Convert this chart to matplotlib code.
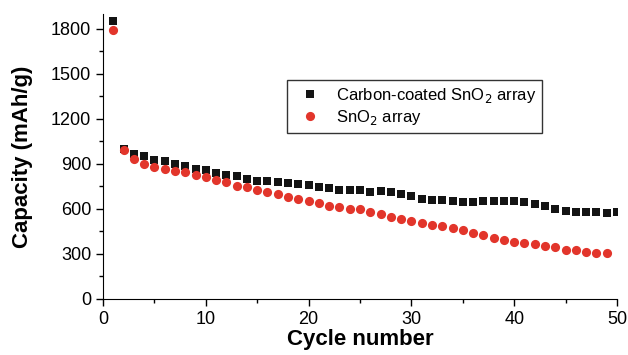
import numpy as np
import matplotlib
matplotlib.use("Agg")
import matplotlib.pyplot as plt
from matplotlib.ticker import MultipleLocator

plt.rcParams['font.family'] = ['Liberation Sans', 'DejaVu Sans']

# data
cycles_coated = np.arange(1, 51)
cap_coated = [1850, 1000, 963, 951, 929, 916, 896, 883, 863, 856,
              839, 825, 817, 799, 786, 786, 779, 772, 764, 759,
              746, 739, 728, 724, 724, 713, 719, 715, 699, 684,
              668, 657, 657, 653, 649, 644, 651, 653, 651, 655,
              644, 631, 618, 598, 584, 578, 578, 578, 573, 578]

cycles_sno2 = np.arange(1, 50)
cap_sno2 = [1790, 995, 932, 896, 876, 865, 854, 845, 825, 815,
            795, 777, 755, 748, 724, 715, 699, 679, 664, 655,
            639, 620, 613, 596, 596, 576, 564, 549, 533, 520,
            503, 491, 489, 473, 458, 438, 423, 403, 392, 378,
            372, 363, 350, 343, 327, 323, 312, 303, 303]

fig = plt.figure(figsize=(6.28, 3.55), dpi=100)
ax = fig.add_axes([0.164, 0.158, 0.8185, 0.803])

ax.plot(cycles_coated, cap_coated, linestyle='none', marker='s', markersize=5.6,
        markeredgewidth=0, color='#141414', label='Carbon-coated SnO$_2$ array')
ax.plot(cycles_sno2, cap_sno2, linestyle='none', marker='o', markersize=6.6,
        markeredgewidth=0, color='#e2352b', label='SnO$_2$ array')

ax.set_xlim(0, 50)
ax.set_ylim(0, 1900)
ax.xaxis.set_major_locator(MultipleLocator(10))
ax.xaxis.set_minor_locator(MultipleLocator(5))
ax.yaxis.set_major_locator(MultipleLocator(300))
ax.yaxis.set_minor_locator(MultipleLocator(150))
ax.tick_params(which='both', direction='out', labelsize=13, width=1)
ax.tick_params(which='major', length=5)
ax.tick_params(which='minor', length=3)
for s in ['top', 'right']:
    ax.spines[s].set_visible(False)

ax.set_xlabel('Cycle number', fontsize=16, fontweight='bold', labelpad=1)
ax.set_ylabel('Capacity (mAh/g)', fontsize=16, fontweight='bold', labelpad=13)

leg = ax.legend(loc='upper left', bbox_to_anchor=(0.358, 0.768), fontsize=12,
                frameon=True, fancybox=False, edgecolor='black',
                borderaxespad=0, handletextpad=0.6, borderpad=0.35,
                labelspacing=0.2)
leg.get_frame().set_linewidth(1)

fig.savefig('out.png', dpi=100)
